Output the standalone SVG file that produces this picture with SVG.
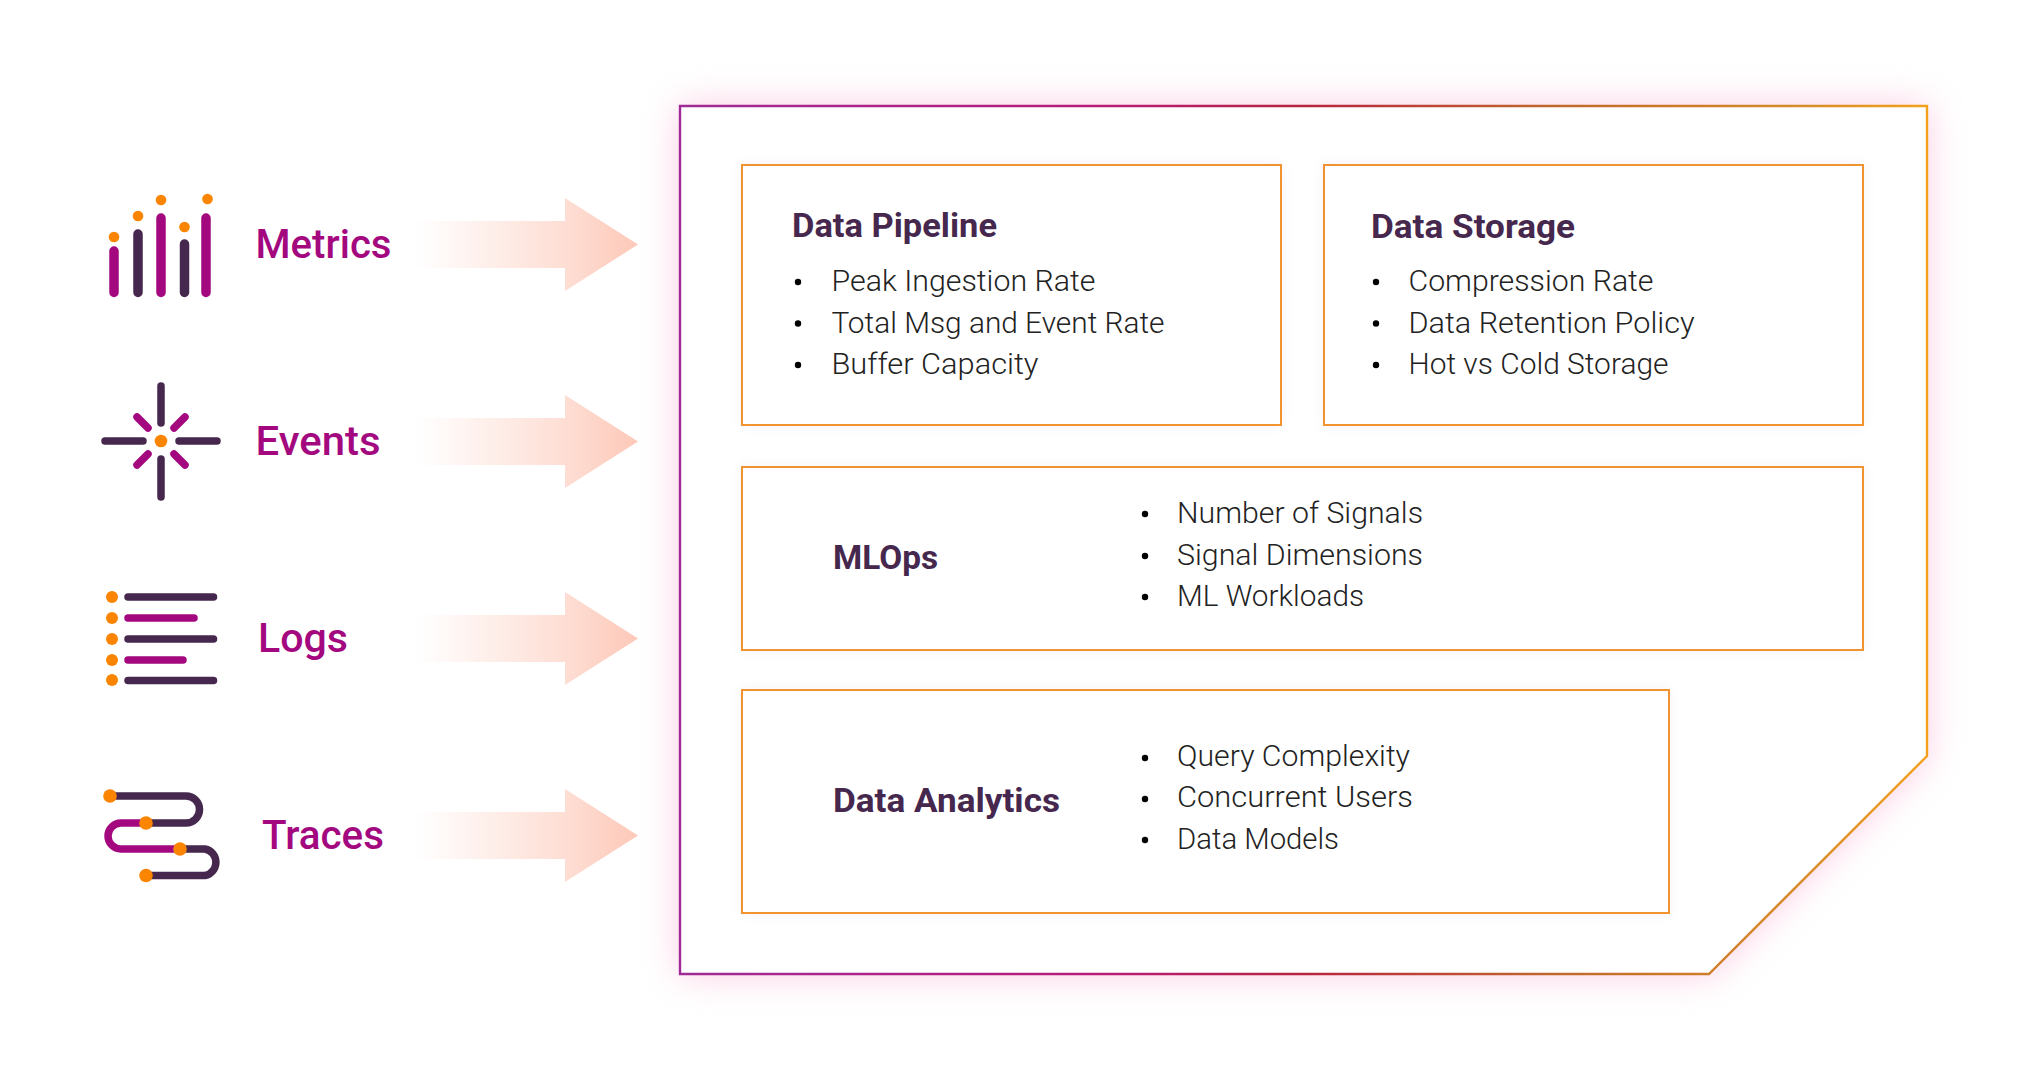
<svg xmlns="http://www.w3.org/2000/svg" width="2030" height="1080" viewBox="0 0 2030 1080">
<style>
.lbl{font-family:"Roboto","Liberation Sans",sans-serif;font-weight:500;font-size:41px;fill:#a4087f}
.h{font-family:"Roboto","Liberation Sans",sans-serif;font-weight:700;font-size:34px;fill:#46274d}
.t{font-family:"Roboto","Liberation Sans",sans-serif;font-weight:300;font-size:30px;fill:#222}
.card{fill:#fff;stroke:#f29330;stroke-width:2;filter:url(#cs)}
.d{fill:none;stroke:#46274d;stroke-width:7.5;stroke-linecap:round}
.m{fill:none;stroke:#a4087f;stroke-width:7.5;stroke-linecap:round}
.o{fill:#fb8500}
</style>
<defs>
<linearGradient id="bd" gradientUnits="userSpaceOnUse" x1="679" y1="0" x2="1927" y2="0"><stop offset="0" stop-color="#a02b96"/><stop offset=".34" stop-color="#b81c78"/><stop offset=".5" stop-color="#b8243f"/><stop offset=".7" stop-color="#c0682c"/><stop offset=".9" stop-color="#d68c28"/><stop offset="1" stop-color="#f3a11a"/></linearGradient>
<linearGradient id="ar" x1="0" y1="0" x2="1" y2="0"><stop offset="0" stop-color="#fdd0c2" stop-opacity="0"/><stop offset=".1" stop-color="#fdd0c2" stop-opacity=".1"/><stop offset=".65" stop-color="#fdd0c2" stop-opacity=".68"/><stop offset="1" stop-color="#fdc8b8"/></linearGradient>
<filter id="gl" x="-5%" y="-6%" width="110%" height="112%"><feGaussianBlur stdDeviation="18"/></filter>
<filter id="cs" x="-3%" y="-6%" width="106%" height="112%"><feDropShadow dx="0" dy="0" stdDeviation="6" flood-color="#000" flood-opacity=".05"/></filter>
<path id="arrow" d="M415 221H565V198L638 244.500L565 291V268H415Z" fill="url(#ar)"/>
</defs>
<rect width="2030" height="1080" fill="#fff"/>
<g id="connectors">
<use href="#arrow"/><use href="#arrow" y="197"/><use href="#arrow" y="394"/><use href="#arrow" y="591"/>
</g>
<g id="frame">
<path d="M680 106H1927V756L1709 974H680Z" fill="#f9a0c8" opacity=".55" filter="url(#gl)"/>
<path d="M680 106H1927V756L1709 974H680Z" fill="#fff" stroke="url(#bd)" stroke-width="2.400"/>
</g>
<g id="metrics">
<path class="m" style="stroke-width:9.500" d="M114 251V292.500M161 218V292.500M206 218V292.500"/>
<path class="d" style="stroke-width:9.500" d="M138 234V292.500M184.500 244V292.500"/>
<circle class="o" cx="114" cy="237" r="5.300"/><circle class="o" cx="138" cy="216" r="5.300"/><circle class="o" cx="161" cy="200" r="5.300"/><circle class="o" cx="184.500" cy="227" r="5.300"/><circle class="o" cx="207.500" cy="199" r="5.300"/>
<text class="lbl" x="255.500" y="258" textLength="136" lengthAdjust="spacingAndGlyphs">Metrics</text>
</g>
<g id="events">
<path class="d" d="M161 386V423M161 459V497M105 441H143M179 441H217"/>
<path class="m" d="M137 417L148 428M174 428L185 417M148 454L137 465M174 454L185 465"/>
<circle class="o" cx="161" cy="441" r="6.300"/>
<text class="lbl" x="255.500" y="455" textLength="125" lengthAdjust="spacingAndGlyphs">Events</text>
</g>
<g id="logs">
<path class="d" d="M128 597H213.500M128 639H213.500M128 680.500H213.500"/>
<path class="m" d="M128 618H194M128 660H183"/>
<g class="o"><circle cx="112" cy="597" r="6"/><circle cx="112" cy="618" r="6"/><circle cx="112" cy="639" r="6"/><circle cx="112" cy="660" r="6"/><circle cx="112" cy="680" r="6"/></g>
<text class="lbl" x="258" y="652" textLength="90" lengthAdjust="spacingAndGlyphs">Logs</text>
</g>
<g id="traces">
<path class="d" d="M110 796H186A13.500 13.500 0 0 1 186 823H146"/>
<path class="m" d="M146 823H121A13 13 0 0 0 121 849H180"/>
<path class="d" d="M180 849H205A13.500 13.500 0 0 1 205 875.500H146"/>
<g class="o"><circle cx="110" cy="796" r="6.800"/><circle cx="146" cy="823" r="6.800"/><circle cx="180" cy="849" r="6.800"/><circle cx="146" cy="875.500" r="6.800"/></g>
<text class="lbl" x="262" y="849" textLength="122" lengthAdjust="spacingAndGlyphs">Traces</text>
</g>
<g id="data-pipeline">
<rect class="card" x="742" y="165" width="539" height="260"/>
<text class="h" x="792" y="237" textLength="205" lengthAdjust="spacingAndGlyphs">Data Pipeline</text>
<circle cx="798" cy="282" r="3.200"/><circle cx="798" cy="323.500" r="3.200"/><circle cx="798" cy="365" r="3.200"/>
<text class="t" x="831.500" y="291" textLength="264" lengthAdjust="spacingAndGlyphs">Peak Ingestion Rate</text>
<text class="t" x="831.500" y="333" textLength="333" lengthAdjust="spacingAndGlyphs">Total Msg and Event Rate</text>
<text class="t" x="831.500" y="374" textLength="207" lengthAdjust="spacingAndGlyphs">Buffer Capacity</text>
</g>
<g id="data-storage">
<rect class="card" x="1324" y="165" width="539" height="260"/>
<text class="h" x="1371" y="238" textLength="204" lengthAdjust="spacingAndGlyphs">Data Storage</text>
<circle cx="1376" cy="282" r="3.200"/><circle cx="1376" cy="323.500" r="3.200"/><circle cx="1376" cy="365" r="3.200"/>
<text class="t" x="1408.500" y="291" textLength="245" lengthAdjust="spacingAndGlyphs">Compression Rate</text>
<text class="t" x="1408.500" y="333" textLength="286" lengthAdjust="spacingAndGlyphs">Data Retention Policy</text>
<text class="t" x="1408.500" y="374" textLength="260" lengthAdjust="spacingAndGlyphs">Hot vs Cold Storage</text>
</g>
<g id="mlops">
<rect class="card" x="742" y="467" width="1121" height="183"/>
<text class="h" x="833" y="569" textLength="105" lengthAdjust="spacingAndGlyphs">MLOps</text>
<circle cx="1145" cy="514" r="3.200"/><circle cx="1145" cy="556" r="3.200"/><circle cx="1145" cy="597" r="3.200"/>
<text class="t" x="1177" y="523" textLength="246" lengthAdjust="spacingAndGlyphs">Number of Signals</text>
<text class="t" x="1177" y="565" textLength="246" lengthAdjust="spacingAndGlyphs">Signal Dimensions</text>
<text class="t" x="1177" y="606" textLength="187" lengthAdjust="spacingAndGlyphs">ML Workloads</text>
</g>
<g id="data-analytics">
<rect class="card" x="742" y="690" width="927" height="223"/>
<text class="h" x="833" y="812" textLength="227" lengthAdjust="spacingAndGlyphs">Data Analytics</text>
<circle cx="1145" cy="758" r="3.200"/><circle cx="1145" cy="799" r="3.200"/><circle cx="1145" cy="840" r="3.200"/>
<text class="t" x="1177" y="766" textLength="233" lengthAdjust="spacingAndGlyphs">Query Complexity</text>
<text class="t" x="1177" y="807" textLength="236" lengthAdjust="spacingAndGlyphs">Concurrent Users</text>
<text class="t" x="1177" y="849" textLength="162" lengthAdjust="spacingAndGlyphs">Data Models</text>
</g>
</svg>
